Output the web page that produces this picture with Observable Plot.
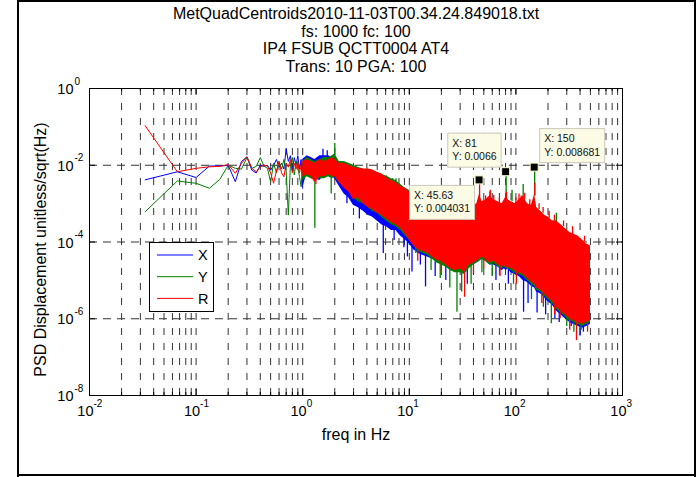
<!DOCTYPE html>
<html><head><meta charset="utf-8">
<script src="https://cdn.jsdelivr.net/npm/d3@7"></script>
<script src="https://cdn.jsdelivr.net/npm/@observablehq/plot@0.6"></script>
<style>
body{margin:0;background:#fff;}
#chart{position:relative;width:698px;height:477px;overflow:hidden;}
</style></head><body><div id="chart"></div>
<script>
// ---------- text ----------
const titleLines = ["MetQuadCentroids2010-11-03T00.34.24.849018.txt", "fs: 1000 fc: 100", "IP4 FSUB QCTT0004 AT4", "Trans: 10 PGA: 100"];
const xLabel = "freq in Hz";
const yLabel = "PSD Displacement unitless/sqrt(Hz)";
const seriesNames = ["X", "Y", "R"];
const xTickExponents = [-2, -1, 0, 1, 2, 3];
const yTickExponents = [0, -2, -4, -6, -8];

// ---------- low-frequency bins (individual PSD points, log10 values) ----------
const lowFreq = [0.0333,0.0667,0.1,0.1333,0.1667,0.2,0.2333,0.2667,0.3,0.3333,0.3667,0.4,0.4333,0.4667,0.5,
  0.5333,0.5667,0.6,0.6333,0.6667,0.7,0.7333,0.7667,0.8,0.8333,0.8667,0.9,0.9333,0.9667,1.0];
const lowLogX = [-2.38,-2.17,-2.32,-2.02,-2.02,-2.0,-2.43,-1.9,-1.78,-2.13,-2.2,-2.0,-2.03,-2.0,-2.13,
  -2.0,-1.85,-2.05,-1.95,-2.1,-1.57,-1.9,-1.75,-2.15,-1.8,-2.0,-1.75,-2.1,-1.85,-2.6];
const lowLogY = [-3.21,-2.41,-2.47,-2.6,-2.37,-2.0,-2.08,-2.1,-1.8,-2.08,-2.03,-1.8,-2.02,-2.08,-2.43,
  -1.95,-2.2,-1.9,-2.1,-1.85,-2.15,-3.3,-2.0,-1.8,-2.25,-1.9,-2.05,-2.3,-2.56,-2.05];
const lowLogR = [-0.97,-2.17,-2.08,-2.04,-2.03,-1.98,-2.21,-1.95,-1.78,-2.08,-2.17,-2.04,-2.0,-2.02,-2.2,
  -2.47,-2.15,-1.9,-2.2,-2.3,-1.95,-2.05,-1.85,-2.2,-1.95,-2.1,-1.9,-2.2,-2.0,-2.1];

// ---------- dense region: min / max envelope of each trace (log10 values) ----------
const bandFreq = [1.0,1.1,1.2,1.3,1.45,1.6,1.75,1.9,2.0,2.2,
  2.45,2.7,3.0,3.3,3.7,4.1,4.5,5.0,5.5,6.1,
  6.8,7.5,8.3,9.2,10,11,12.2,13.5,15,16.5,
  18.2,20,22,24.5,27,30,33,36.5,40,43,
  45.63,48,52,57,62,68,74,78,81,84,
  90,98,107,117,128,140,150,156,170,185,
  200,220,240,265,290,320,350,385,420,460,
  500];
const bandLogRLo = [-2.3,-2.25,-2.3,-2.45,-2.3,-2.3,-2.25,-2.3,-2.3,-2.45,
  -2.6,-2.7,-2.9,-2.85,-3.0,-3.1,-3.15,-3.25,-3.3,-3.4,
  -3.5,-3.55,-3.65,-3.8,-3.95,-4.1,-4.2,-4.25,-4.3,-4.4,
  -4.48,-4.5,-4.6,-4.7,-4.75,-4.7,-4.8,-4.6,-4.55,-4.5,
  -4.45,-4.4,-4.45,-4.55,-4.5,-4.6,-4.65,-4.6,-4.7,-4.65,
  -4.7,-4.75,-4.8,-4.85,-4.95,-5.05,-5.1,-5.2,-5.25,-5.35,
  -5.45,-5.55,-5.7,-5.8,-5.9,-6.0,-6.05,-6.1,-6.15,-6.1,
  -6.05];
const bandLogRHi = [-1.9,-1.85,-1.9,-1.95,-1.85,-1.9,-1.85,-1.8,-1.85,-1.95,
  -1.95,-2.0,-2.05,-2.08,-2.1,-2.1,-2.12,-2.18,-2.22,-2.32,
  -2.4,-2.45,-2.55,-2.6,-2.7,-2.75,-2.8,-2.85,-2.9,-2.9,
  -2.95,-3.0,-3.0,-3.05,-3.05,-3.1,-3.1,-3.1,-3.05,-3.0,
  -2.75,-2.95,-2.9,-2.8,-2.9,-2.95,-3.0,-2.9,-2.8,-2.9,
  -2.95,-3.0,-2.9,-2.8,-3.0,-3.05,-2.75,-3.1,-3.2,-3.3,
  -3.35,-3.45,-3.45,-3.55,-3.65,-3.75,-3.8,-3.85,-3.95,-4.05,
  -4.1];
const bandLogYLo = [-2.4,-2.3,-2.35,-2.4,-2.35,-2.35,-2.3,-2.35,-2.3,-2.45,
  -2.55,-2.65,-2.85,-2.95,-3.0,-3.1,-3.2,-3.25,-3.35,-3.45,
  -3.55,-3.6,-3.7,-3.85,-3.95,-4.1,-4.25,-4.3,-4.35,-4.45,
  -4.55,-4.6,-4.65,-4.75,-4.8,-4.8,-4.85,-4.7,-4.6,-4.55,
  -4.5,-4.45,-4.5,-4.6,-4.55,-4.65,-4.7,-4.65,-4.7,-4.7,
  -4.75,-4.8,-4.85,-4.9,-5.0,-5.1,-5.15,-5.25,-5.3,-5.4,
  -5.5,-5.6,-5.75,-5.85,-5.95,-6.05,-6.1,-6.15,-6.2,-6.15,
  -6.1];
const bandLogYHi = [-1.9,-1.8,-1.85,-1.9,-1.85,-1.8,-1.8,-1.75,-1.7,-1.9,
  -1.9,-1.95,-2.0,-2.05,-2.1,-2.15,-2.2,-2.25,-2.25,-2.28,
  -2.35,-2.4,-2.5,-2.6,-2.65,-2.75,-2.8,-2.85,-2.9,-2.95,
  -3.0,-3.05,-3.05,-3.1,-3.1,-3.15,-3.15,-3.15,-3.1,-3.05,
  -2.85,-3.0,-2.95,-2.85,-2.95,-3.0,-3.05,-2.95,-2.85,-2.9,
  -2.95,-3.0,-2.95,-2.85,-3.0,-3.05,-2.85,-3.1,-3.2,-3.3,
  -3.4,-3.45,-3.45,-3.6,-3.7,-3.8,-3.85,-3.9,-4.0,-4.1,
  -4.15];
const bandLogXLo = [-2.6,-2.2,-2.3,-2.35,-2.4,-2.25,-2.3,-2.3,-2.35,-2.55,
  -2.75,-2.85,-3.05,-3.1,-3.2,-3.3,-3.35,-3.45,-3.55,-3.6,
  -3.7,-3.7,-3.85,-3.95,-4.05,-4.2,-4.3,-4.35,-4.4,-4.45,
  -4.5,-4.55,-4.65,-4.7,-4.8,-4.75,-4.8,-4.65,-4.6,-4.55,
  -4.5,-4.45,-4.5,-4.6,-4.6,-4.65,-4.75,-4.7,-4.75,-4.7,
  -4.8,-4.85,-4.9,-5.0,-5.05,-5.15,-5.2,-5.3,-5.35,-5.45,
  -5.55,-5.65,-5.8,-5.9,-6.0,-6.1,-6.15,-6.2,-6.25,-6.2,
  -6.15];
const bandLogXHi = [-1.85,-1.75,-1.8,-1.85,-1.75,-1.75,-1.75,-1.8,-1.85,-1.95,
  -1.95,-2.0,-2.1,-2.2,-2.2,-2.25,-2.3,-2.35,-2.4,-2.45,
  -2.5,-2.55,-2.6,-2.7,-2.75,-2.8,-2.85,-2.9,-2.95,-2.95,
  -3.0,-3.05,-3.05,-3.1,-3.15,-3.15,-3.2,-3.2,-3.2,-3.1,
  -2.95,-3.1,-3.05,-2.9,-3.0,-3.05,-3.1,-3.05,-2.9,-3.05,
  -3.05,-3.1,-3.05,-3.0,-3.1,-3.15,-2.9,-3.2,-3.25,-3.35,
  -3.4,-3.5,-3.55,-3.65,-3.75,-3.85,-3.9,-3.95,-4.05,-4.15,
  -4.2];

// ---------- isolated narrow spikes of single traces (log10 from -> to) ----------
const spikeFreq   = [1.3, 1.33, 1.55, 1.7, 2.0, 1.85, 2.6, 3.4, 5.7, 6.1, 7.2, 7.5, 8.9, 9.6, 10.6, 11.5, 12.7, 14.2,
  16, 17.5, 19.5, 22, 28, 31, 33, 38, 45.63, 57, 57.5, 60, 81, 81.5, 92, 95, 107, 117, 118, 121, 130, 140,
  150, 150.5, 158, 190, 215, 240, 255, 260, 300, 330, 370, 400, 410, 430,
  52, 62, 70, 100, 112, 135, 165, 180, 205, 230, 280, 340, 440,
  12, 20, 40, 50, 71, 101, 175, 231, 320, 470,
  35, 65, 85, 232, 24, 48, 181, 350];
const spikeSeries = ["Y","R","X","X","Y","Y","X","X","X","Y","X","Y","X","X","X","Y","X","X",
  "Y","X","Y","X","Y","Y","R","Y","R","Y","R","Y","Y","R","Y","Y","R","Y","X","R","X","Y",
  "Y","R","X","X","Y","Y","X","R","Y","X","R","X","Y","X",
  "R","R","R","R","R","R","R","R","R","R","R","R","R",
  "R","R","R","R","R","R","R","R","R","R",
  "X","X","X","X","Y","Y","Y","Y"];
const spikeLogFrom = [-2.4,-2.3,-1.8,-1.8,-1.75,-2.3,-2.6,-3.1,-3.5,-2.4,-3.7,-2.5,-3.9,-4.0,-4.1,-4.0,-4.3,-4.3,
  -4.4,-4.5,-4.5,-4.6,-4.75,-4.75,-4.8,-4.6,-3.0,-2.9,-2.9,-4.55,-2.9,-2.9,-2.95,-4.7,-2.95,-2.9,-4.9,-2.9,-5.0,-5.1,
  -2.8,-2.8,-5.2,-5.35,-5.55,-3.5,-5.8,-5.8,-5.9,-6.0,-6.05,-6.1,-6.15,-6.15,
  -2.95,-2.95,-3.0,-3.0,-2.95,-3.05,-3.15,-3.25,-3.4,-3.45,-3.6,-3.8,-4.0,
  -4.15,-4.45,-4.55,-4.4,-4.6,-4.75,-5.2,-5.65,-5.95,-6.1,
  -4.7,-4.55,-4.65,-5.65,-4.7,-4.4,-5.3,-6.05];
const spikeLogTo   = [-3.64,-2.5,-1.58,-1.62,-1.43,-2.75,-3.0,-3.4,-4.3,-2.28,-3.96,-2.35,-4.15,-4.39,-4.78,-4.3,-4.6,-5.17,
  -4.74,-4.9,-4.95,-5.0,-5.83,-5.3,-5.44,-5.1,-2.39,-2.7,-2.65,-4.9,-2.18,-2.7,-2.65,-5.1,-2.75,-2.5,-5.83,-2.73,-5.6,-5.5,
  -2.06,-2.47,-5.85,-5.9,-6.13,-3.25,-6.1,-6.0,-6.2,-6.2,-6.57,-6.45,-6.3,-6.35,
  -2.8,-2.78,-2.85,-2.85,-2.8,-2.9,-3.0,-3.1,-3.2,-3.3,-3.45,-3.6,-3.85,
  -4.5,-4.8,-4.85,-4.7,-4.9,-5.1,-5.6,-5.9,-6.3,-6.35,
  -5.1,-5.0,-5.1,-6.0,-5.2,-4.8,-5.7,-6.35];

// ---------- data tips ----------
const tipFreq = [45.63, 81, 150];
const tipValue = [0.004031, 0.0066, 0.008681];
const tipTextX = ["45.63", "81", "150"];
const tipTextY = ["0.004031", "0.0066", "0.008681"];

// ---------- layout / style ----------
const W = 698, H = 477, mt = 88, mb = 82, ml = 89, mr = 76;
const pw = W - ml - mr, ph = H - mt - mb;
const colors = {X: "#0000ff", Y: "#008000", R: "#ff0000"};
const tipPlacement = [{h: -1, v: 1}, {h: -1, v: -1}, {h: 1, v: -1}];
const FONT = "'Liberation Sans', Arial, Helvetica, sans-serif";

const low = {X: lowLogX, Y: lowLogY, R: lowLogR};
const band = {X: [bandLogXLo, bandLogXHi], Y: [bandLogYLo, bandLogYHi], R: [bandLogRLo, bandLogRHi]};

const majorX = xTickExponents.map(e => 10 ** e);
const minorX = [];
for (let e = -2; e < 3; e++) for (let m = 2; m <= 9; m++) minorX.push(m * 10 ** e);
const gridX = majorX.concat(minorX);
const gridY = yTickExponents.map(e => 10 ** e);

const marks = [
  Plot.ruleX(gridX, {stroke: "#333", strokeWidth: 1, strokeDasharray: "7,8"}),
  Plot.ruleY(gridY, {stroke: "#333", strokeWidth: 1, strokeDasharray: "8,6"})
];
for (const s of seriesNames) {
  const [lo, hi] = band[s];
  const bandRows = bandFreq.map((f, i) => ({f, lo: 10 ** lo[i], hi: 10 ** hi[i]}));
  const lowRows = lowFreq.map((f, i) => ({f, v: 10 ** low[s][i]}));
  const spikeRows = spikeFreq.map((f, i) => ({f, s: spikeSeries[i], a: 10 ** spikeLogFrom[i], b: 10 ** spikeLogTo[i]})).filter(d => d.s === s);
  marks.push(Plot.areaY(bandRows, {x: "f", y1: "lo", y2: "hi", fill: colors[s], curve: "linear"}));
  marks.push(Plot.line(lowRows, {x: "f", y: "v", stroke: colors[s], strokeWidth: 1}));
  marks.push(Plot.ruleX(spikeRows, {x: "f", y1: "a", y2: "b", stroke: colors[s], strokeWidth: 1.3}));
}
marks.push(
  Plot.frame({stroke: "black", strokeWidth: 1}),
  Plot.ruleX(majorX, {insetTop: ph - 6, stroke: "black"}),
  Plot.ruleX(majorX, {insetBottom: ph - 6, stroke: "black"}),
  Plot.ruleX(minorX, {insetTop: ph - 3, stroke: "black"}),
  Plot.ruleX(minorX, {insetBottom: ph - 3, stroke: "black"}),
  Plot.ruleY(gridY, {insetRight: pw - 6, stroke: "black"}),
  Plot.ruleY(gridY, {insetLeft: pw - 6, stroke: "black"}),
  // x tick labels
  Plot.text(xTickExponents, {x: e => 10 ** e, text: () => "10", frameAnchor: "bottom", textAnchor: "end", dx: 4, dy: 20, fontSize: 14.5}),
  Plot.text(xTickExponents, {x: e => 10 ** e, text: e => String(e), frameAnchor: "bottom", textAnchor: "start", dx: 4, dy: 11, fontSize: 10}),
  // y tick labels
  Plot.text(yTickExponents, {y: e => 10 ** e, text: () => "10", frameAnchor: "left", textAnchor: "end", dx: -16, dy: 1, fontSize: 14.5}),
  Plot.text(yTickExponents, {y: e => 10 ** e, text: e => String(e), frameAnchor: "left", textAnchor: "start", dx: -15, dy: -7, fontSize: 10}),
  // title and axis labels
  Plot.text([titleLines.join("\n")], {text: d => d, frameAnchor: "top", lineAnchor: "top", dy: -82, lineHeight: 1.106, fontSize: 16}),
  Plot.text([xLabel], {text: d => d, frameAnchor: "bottom", dy: 44, fontSize: 16}),
  Plot.text([yLabel], {text: d => d, frameAnchor: "left", textAnchor: "middle", rotate: -90, dx: -49, dy: 7.5, fontSize: 16})
);

const chart = Plot.plot({
  width: W, height: H,
  marginTop: mt, marginBottom: mb, marginLeft: ml, marginRight: mr,
  x: {type: "log", domain: [1e-2, 1e3], axis: null},
  y: {type: "log", domain: [1e-8, 1], axis: null},
  style: {fontFamily: FONT, background: "white", color: "black", overflow: "visible"},
  marks
});
document.getElementById("chart").appendChild(chart);

// ---------- data tips, legend and outer border (positioned through Plot's scales) ----------
const svg = d3.select(chart);
const sx = chart.scale("x"), sy = chart.scale("y");
tipFreq.forEach((f, i) => {
  const mx = sx.apply(f), my = sy.apply(tipValue[i]);
  const g = svg.append("g").attr("font-family", FONT).attr("font-size", 10.5).attr("fill", "#111").attr("text-anchor", "start");
  const rect = g.append("rect");
  const t1 = g.append("text").attr("text-anchor", "start").text("X: " + tipTextX[i]);
  const t2 = g.append("text").attr("text-anchor", "start").text("Y: " + tipTextY[i]);
  const w = Math.max(t1.node().getComputedTextLength(), t2.node().getComputedTextLength()) + 9;
  const h = 34;
  const p = tipPlacement[i];
  const bx = p.h < 0 ? mx - 5 - w : mx + 5;
  const by = p.v < 0 ? my - 5 - h : my + 5;
  rect.attr("x", bx + 0.5).attr("y", by + 0.5).attr("width", w).attr("height", h)
    .attr("fill", "#fbfbe6").attr("stroke", "#c9c9b8").attr("stroke-width", 1);
  t1.attr("x", bx + 5).attr("y", by + 14);
  t2.attr("x", bx + 5).attr("y", by + 27.5);
  svg.append("rect").attr("x", mx - 4).attr("y", my - 4).attr("width", 8).attr("height", 8)
    .attr("fill", "black").attr("stroke", "#fffcc8").attr("stroke-width", 1);
});

// legend
const lg = svg.append("g").attr("font-family", FONT).attr("text-anchor", "start");
lg.append("rect").attr("x", 149.5).attr("y", 242.5).attr("width", 64).attr("height", 69)
  .attr("fill", "white").attr("stroke", "black").attr("stroke-width", 1);
seriesNames.forEach((s, i) => {
  const yy = 255 + i * 21.7;
  lg.append("line").attr("x1", 157).attr("x2", 193).attr("y1", yy).attr("y2", yy)
    .attr("stroke", colors[s]).attr("stroke-width", 1);
  lg.append("text").attr("x", 198).attr("y", yy + 5.2).attr("font-size", 14.5).attr("fill", "black").text(s);
});

// outer border of the figure window
const bd = svg.append("g").attr("stroke", "black").attr("stroke-width", 2);
bd.append("line").attr("x1", 18).attr("x2", 18).attr("y1", 0).attr("y2", H);
bd.append("line").attr("x1", 17).attr("x2", 696).attr("y1", 1).attr("y2", 1);
bd.append("line").attr("x1", 695).attr("x2", 695).attr("y1", 0).attr("y2", H);
bd.append("line").attr("x1", 17).attr("x2", 696).attr("y1", 475).attr("y2", 475);
</script></body></html>
